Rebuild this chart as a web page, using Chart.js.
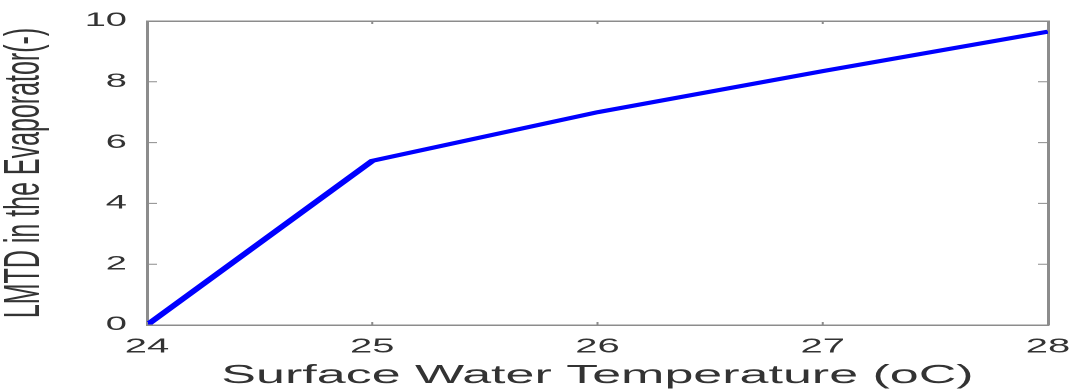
<!DOCTYPE html>
<html>
<head>
<meta charset="utf-8">
<script src="https://cdn.jsdelivr.net/npm/chart.js@4"></script>
<style>
  html, body { margin: 0; padding: 0; background: #fff; overflow: hidden; }
  /* the reference is stretched about 2x horizontally, so draw at half width and stretch */
  #wrap { width: 537px; height: 389px; transform: scale(2, 1); transform-origin: 0 0; }
</style>
</head>
<body>
<div id="wrap"><canvas id="chart" width="537" height="389"></canvas></div>
<script>
const temps = [24, 25, 26, 27, 28];
const lmtd = [0, 5.4, 7.0, 8.35, 9.65];
const xTicks = [24, 25, 26, 27, 28];
const yTicks = [0, 2, 4, 6, 8, 10];

const axisColor = "#8c8c8c";
const textColor = "#333333";
const fontFamily = "'Liberation Sans', Arial, sans-serif";

// inward tick marks on all four sides, like the original plot box
const innerTicks = {
    id: "innerTicks",
    afterDatasetsDraw(chart) {
        const { ctx, chartArea: a, scales } = chart;
        ctx.save();
        ctx.strokeStyle = axisColor;
        ctx.lineWidth = 1;
        ctx.beginPath();
        yTicks.forEach(v => {
            const py = scales.y.getPixelForValue(v);
            ctx.moveTo(a.left, py); ctx.lineTo(a.left + 5, py);
            ctx.moveTo(a.right, py); ctx.lineTo(a.right - 5, py);
        });
        xTicks.forEach(v => {
            const px = scales.x.getPixelForValue(v);
            ctx.moveTo(px, a.bottom); ctx.lineTo(px, a.bottom - 3);
            ctx.moveTo(px, a.top); ctx.lineTo(px, a.top + 3);
        });
        ctx.stroke();
        ctx.restore();
    }
};

const ctx = document.getElementById("chart").getContext("2d");
new Chart(ctx, {
    type: "line",
    data: {
        datasets: [{
            data: temps.map((t, i) => ({ x: t, y: lmtd[i] })),
            borderColor: "#0000ff",
            borderWidth: 4,
            pointRadius: 0,
            tension: 0,
            fill: false
        }]
    },
    options: {
        responsive: false,
        animation: false,
        devicePixelRatio: 2,
        layout: { padding: 0, autoPadding: false },
        plugins: { legend: { display: false }, tooltip: { enabled: false } },
        scales: {
            x: {
                type: "linear",
                position: "bottom",
                min: 24,
                max: 28,
                afterBuildTicks: s => { s.ticks = xTicks.map(v => ({ value: v })); },
                // fixed box; drop the label overhang padding so the plot reaches the right edge
                afterFit: s => { s.height = 64; s.paddingLeft = 0; s.paddingRight = 0; },
                grid: { display: false, drawTicks: false },
                border: { display: true, color: axisColor, width: 1.5 },
                ticks: { color: textColor, font: { family: fontFamily, size: 20 }, padding: 10, maxRotation: 0 },
                title: {
                    display: true,
                    text: "Surface Water Temperature (oC)",
                    color: textColor,
                    font: { family: fontFamily, size: 26, lineHeight: 1 },
                    padding: { top: 0, bottom: 0 }
                }
            },
            y: {
                position: "left",
                min: 0,
                max: 10,
                afterBuildTicks: s => { s.ticks = yTicks.map(v => ({ value: v })); },
                afterFit: s => { s.width = 73.5; s.paddingTop = 0; s.paddingBottom = 0; },
                grid: { display: false, drawTicks: false },
                border: { display: true, color: axisColor, width: 1.5 },
                ticks: { color: textColor, font: { family: fontFamily, size: 19 }, padding: 10 },
                title: {
                    display: true,
                    text: "LMTD in the Evaporator(-)",
                    color: textColor,
                    font: { family: fontFamily, size: 25, lineHeight: 1 },
                    padding: { top: 0, bottom: 0 }
                }
            },
            x2: {
                type: "linear",
                position: "top",
                min: 24,
                max: 28,
                afterFit: s => { s.height = 21; s.paddingLeft = 0; s.paddingRight = 0; },
                grid: { display: false, drawTicks: false },
                border: { display: true, color: axisColor, width: 1.5 },
                ticks: { display: false }
            },
            y2: {
                position: "right",
                min: 0,
                max: 10,
                afterFit: s => { s.width = 13; s.paddingTop = 0; s.paddingBottom = 0; },
                grid: { display: false, drawTicks: false },
                border: { display: true, color: axisColor, width: 1.5 },
                ticks: { display: false }
            }
        }
    },
    plugins: [innerTicks]
});
</script>
</body>
</html>
